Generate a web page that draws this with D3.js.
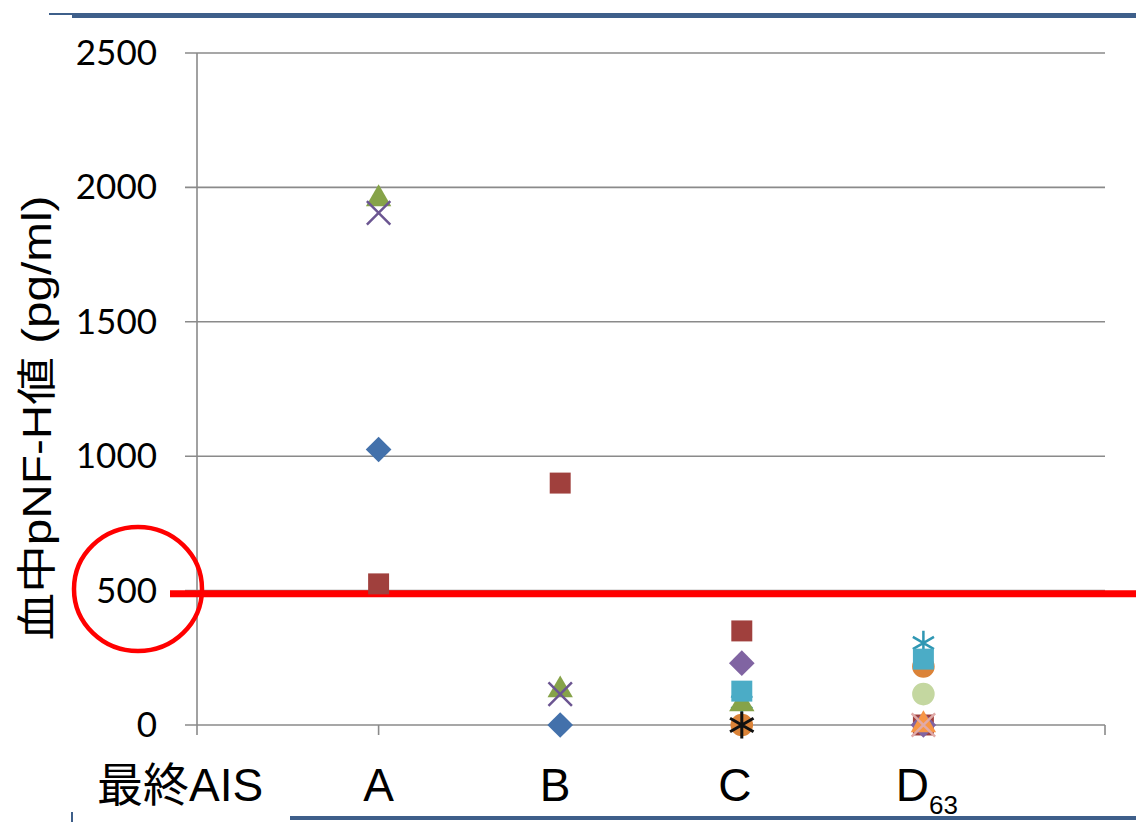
<!DOCTYPE html>
<html>
<head>
<meta charset="utf-8">
<script src="https://cdn.jsdelivr.net/npm/d3@7"></script>
<style>
  body { margin: 0; background: #fff; }
  svg { display: block; }
</style>
</head>
<body>
<div id="chart"></div>
<script>
const W = 1136, H = 822;

// categories on the x axis (final AIS grade)
const categories = ["A", "B", "C", "D"];
const yTicks = [0, 500, 1000, 1500, 2000, 2500];
const threshold = 488;

// one array per patient series: [category, pNF-H value]
const s1 = [["A", 1025], ["B", 0]];
const s2 = [["A", 525], ["B", 900], ["C", 350], ["D", 0]];
const s3 = [["A", 1957], ["B", 130], ["C", 78]];
const s4 = [["A", 1905], ["B", 115]];
const s5 = [["C", 230], ["D", 0]];
const s7 = [["C", 85], ["D", 305]];
const s6 = [["C", 126], ["D", 245]];
const s8 = [["C", 0], ["D", 218]];
const s9 = [["C", 0]];
const s10 = [["D", 115]];
const s11 = [["D", 0]];
const s12 = [["D", 0]];

// drawing order and marker styles
const seriesList = [
  { data: s1, shape: "diamond", color: "#4371ab" },
  { data: s2, shape: "square", color: "#a0403d" },
  { data: s5, shape: "diamond", color: "#8064a2" },
  { data: s12, shape: "triangle", color: "#f79646" },
  { data: s7, shape: "star", color: "#2f97b3" },
  { data: s3, shape: "triangle", color: "#86a349" },
  { data: s4, shape: "x", color: "#6b5591" },
  { data: s8, shape: "circle", color: "#db8338" },
  { data: s6, shape: "square", color: "#4bacc6" },
  { data: s9, shape: "bigstar", color: "#111111" },
  { data: s10, shape: "circle", color: "#c4d7a0" },
  { data: s11, shape: "x", color: "#e0aaa8" }
];

const svg = d3.select("#chart").append("svg")
  .attr("width", W).attr("height", H);

const x = d3.scaleLinear().domain([0, 5]).range([197, 1105]);
const y = d3.scaleLinear().domain([0, 2500]).range([725, 53]);
const xPos = c => x(categories.indexOf(c) + 1);

// slide decoration lines
svg.append("rect").attr("x", 49).attr("y", 13).attr("width", 23).attr("height", 2).attr("fill", "#3e5f8a");
svg.append("rect").attr("x", 72).attr("y", 13).attr("width", W - 72).attr("height", 5).attr("fill", "#3e5f8a");
svg.append("rect").attr("x", 290).attr("y", 816).attr("width", W - 290).attr("height", 4).attr("fill", "#3e5f8a");
svg.append("rect").attr("x", 71).attr("y", 812).attr("width", 2).attr("height", 10).attr("fill", "#3e5f8a");

// gridlines
svg.append("g").selectAll("line").data(yTicks).join("line")
  .attr("x1", 185).attr("x2", 1105)
  .attr("y1", d => y(d)).attr("y2", d => y(d))
  .attr("stroke", "#8a8a8a").attr("stroke-width", 1.6);

// y axis line
svg.append("line").attr("x1", 197).attr("x2", 197).attr("y1", 53).attr("y2", 735)
  .attr("stroke", "#8a8a8a").attr("stroke-width", 1.6);

// x axis ticks
svg.append("g").selectAll("line").data(d3.range(1, 6)).join("line")
  .attr("x1", d => x(d)).attr("x2", d => x(d))
  .attr("y1", 725).attr("y2", 735)
  .attr("stroke", "#8a8a8a").attr("stroke-width", 1.6);

// y tick labels
svg.append("g").selectAll("text").data(yTicks).join("text")
  .attr("x", 157).attr("y", d => y(d) + 12)
  .attr("text-anchor", "end")
  .style("font-family", "Lato, 'Open Sans', sans-serif")
  .style("font-size", "35px")
  .text(d => d);

// y axis title
svg.append("text")
  .attr("transform", "translate(51,418) rotate(-90)")
  .attr("text-anchor", "middle")
  .attr("textLength", 445)
  .attr("lengthAdjust", "spacingAndGlyphs")
  .style("font-family", "'Liberation Sans', Arial, 'Noto Sans CJK JP', sans-serif")
  .style("font-size", "40px")
  .text("血中pNF-H値 (pg/ml)");

// category labels
const narrow = "'Liberation Sans Narrow', 'Liberation Sans', 'Noto Sans CJK JP', sans-serif";
const labelShift = { A: 0, B: -5, C: -7, D: -11 };
svg.append("text").attr("x", 97).attr("y", 801)
  .style("font-family", narrow).style("font-size", "46px")
  .text("最終AIS");
svg.append("g").selectAll("text").data(categories).join("text")
  .attr("x", d => xPos(d) + labelShift[d]).attr("y", 801)
  .attr("text-anchor", "middle")
  .style("font-family", narrow).style("font-size", "46px")
  .text(d => d);
svg.append("text").attr("x", 929).attr("y", 814)
  .style("font-family", narrow).style("font-size", "26px")
  .text("63");

// threshold line and circle
svg.append("line").attr("x1", 170).attr("x2", W)
  .attr("y1", y(threshold)).attr("y2", y(threshold))
  .attr("stroke", "#ff0000").attr("stroke-width", 7);
svg.append("ellipse").attr("cx", 138).attr("cy", 589).attr("rx", 64).attr("ry", 62)
  .attr("fill", "none").attr("stroke", "#ff0000").attr("stroke-width", 4.5);

// markers
const sym = {
  diamond: d3.symbol().type(d3.symbolDiamond2).size(420),
  square: d3.symbol().type(d3.symbolSquare2).size(560),
  triangle: d3.symbol().type(d3.symbolTriangle2).size(460),
  circle: d3.symbol().type(d3.symbolCircle).size(400),
  x: d3.symbol().type(d3.symbolX).size(360),
  star: d3.symbol().type(d3.symbolAsterisk).size(420),
  bigstar: d3.symbol().type(d3.symbolAsterisk).size(520)
};

seriesList.forEach(s => {
  const g = svg.append("g");
  const line = s.shape === "x" || s.shape === "star" || s.shape === "bigstar";
  g.selectAll("path").data(s.data).join("path")
    .attr("transform", d => `translate(${xPos(d[0])},${y(d[1])})`)
    .attr("d", sym[s.shape])
    .attr("fill", line ? "none" : s.color)
    .attr("stroke", line ? s.color : "none")
    .attr("stroke-width", s.shape === "bigstar" ? 3 : 2.5);
});
</script>
</body>
</html>
